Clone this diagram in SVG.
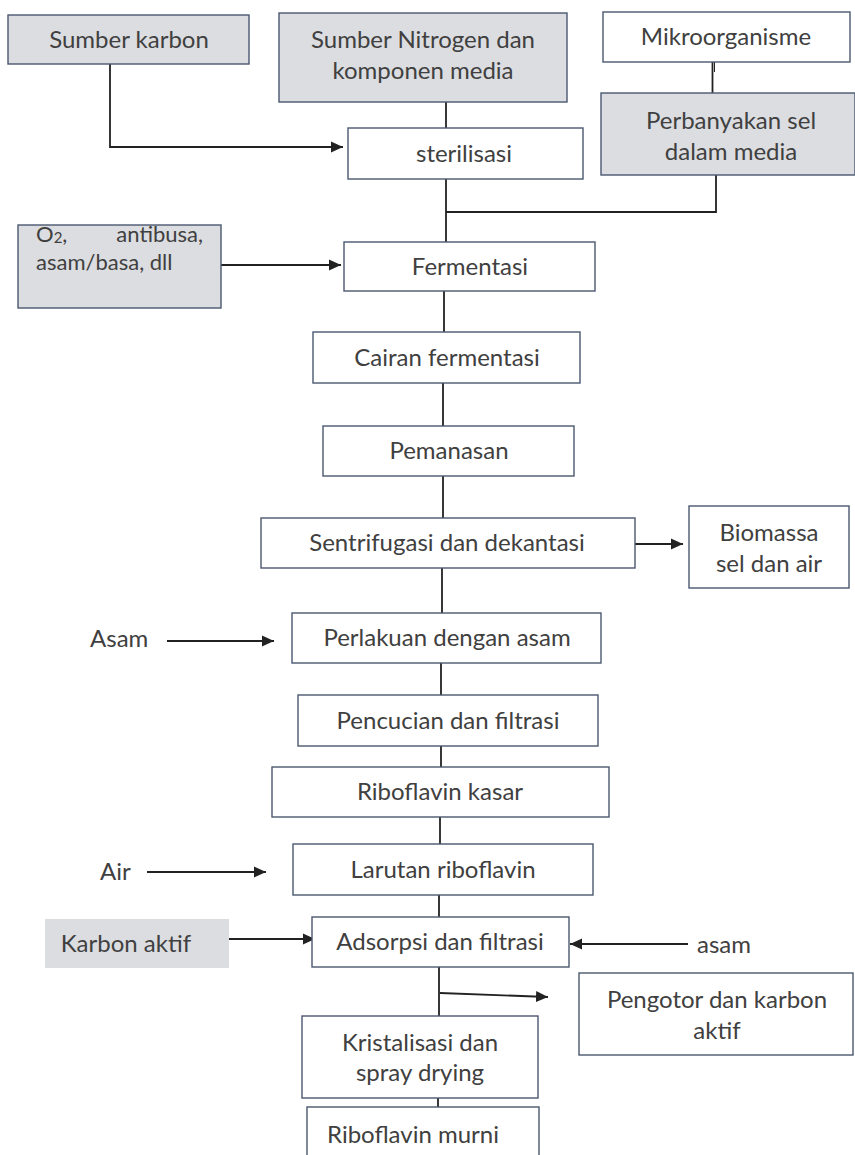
<svg xmlns="http://www.w3.org/2000/svg" width="855" height="1155" viewBox="0 0 855 1155">
<style>
.box{fill:#ffffff;stroke:#4a5870;stroke-width:1.4}
.gray{fill:#dcdde0;stroke:#4a5870;stroke-width:1.4}
.plain{fill:#dcdde0;stroke:none}
text{font-family:Lato,"Open Sans","Liberation Sans",sans-serif;font-size:24px;font-weight:400;fill:#404040}
.c{text-anchor:middle}
.sm{font-size:22px}
.ln{fill:none;stroke:#222222;stroke-width:1.8}
</style>
<defs>
<marker id="arr" markerUnits="userSpaceOnUse" markerWidth="14" markerHeight="12" refX="12" refY="6" orient="auto">
<path d="M0,0.5 L12,6 L0,11.5 Z" fill="#222222"/>
</marker>
</defs>
<rect width="855" height="1155" fill="#ffffff"/>
<g id="connectors">
<path class="ln" d="M110,64 V147 H343" marker-end="url(#arr)"/>
<path class="ln" d="M446,102 V128"/>
<path class="ln" d="M712.5,62 V93"/>
<path class="ln" d="M714.5,62 V72" style="stroke-width:1"/>
<path class="ln" d="M446,179 V242"/>
<path class="ln" d="M716,175 V212 H446"/>
<path class="ln" d="M221,265 H341" marker-end="url(#arr)"/>
<path class="ln" d="M444,291 V332"/>
<path class="ln" d="M443,383 V426"/>
<path class="ln" d="M443,476 V518"/>
<path class="ln" d="M635,544 H683" marker-end="url(#arr)"/>
<path class="ln" d="M442,568 V613"/>
<path class="ln" d="M167,641 H274" marker-end="url(#arr)"/>
<path class="ln" d="M441,663 V695"/>
<path class="ln" d="M441,746 V767"/>
<path class="ln" d="M440,817 V844"/>
<path class="ln" d="M147,872 H266" marker-end="url(#arr)"/>
<path class="ln" d="M439,895 V917"/>
<path class="ln" d="M221,939 H315" marker-end="url(#arr)"/>
<path class="ln" d="M688,944 H570" marker-end="url(#arr)"/>
<path class="ln" d="M439,967 V1016"/>
<path class="ln" d="M440,993 L548,997" marker-end="url(#arr)"/>
<path class="ln" d="M438,1098 V1107"/>
</g>
<g id="sumber-karbon"><rect class="gray" x="8" y="15" width="241" height="49"/><text class="c" x="129" y="48">Sumber karbon</text></g>
<g id="sumber-nitrogen"><rect class="gray" x="279" y="13" width="288" height="89"/><text class="c" x="423" y="48">Sumber Nitrogen dan</text><text class="c" x="423" y="79">komponen media</text></g>
<g id="mikroorganisme"><rect class="box" x="603" y="12" width="247" height="50"/><text class="c" x="726" y="45">Mikroorganisme</text></g>
<g id="perbanyakan"><rect class="gray" x="601" y="93" width="254" height="82"/><text class="c" x="731" y="129">Perbanyakan sel</text><text class="c" x="731" y="160">dalam media</text></g>
<g id="sterilisasi"><rect class="box" x="348" y="128" width="235" height="51"/><text class="c" x="464" y="162">sterilisasi</text></g>
<g id="o2"><rect class="gray" x="18" y="225" width="203" height="83"/><text class="sm" x="36" y="242">O<tspan font-size="15" dy="1">2</tspan><tspan dy="-1">,</tspan><tspan x="203" y="242" text-anchor="end">antibusa,</tspan><tspan x="36" y="270">asam/basa, dll</tspan></text></g>
<g id="fermentasi"><rect class="box" x="344" y="242" width="251" height="49"/><text class="c" x="470" y="275">Fermentasi</text></g>
<g id="cairan"><rect class="box" x="313" y="332" width="267" height="51"/><text class="c" x="447" y="366">Cairan fermentasi</text></g>
<g id="pemanasan"><rect class="box" x="323" y="426" width="251" height="50"/><text class="c" x="449" y="459">Pemanasan</text></g>
<g id="sentrifugasi"><rect class="box" x="261" y="518" width="374" height="50"/><text class="c" x="447" y="551">Sentrifugasi dan dekantasi</text></g>
<g id="biomassa"><rect class="box" x="689" y="506" width="160" height="82"/><text class="c" x="769" y="541">Biomassa</text><text class="c" x="769" y="572">sel dan air</text></g>
<g id="asam-label"><text x="90" y="647">Asam</text></g>
<g id="perlakuan"><rect class="box" x="292" y="613" width="309" height="50"/><text class="c" x="447" y="646">Perlakuan dengan asam</text></g>
<g id="pencucian"><rect class="box" x="298" y="695" width="300" height="51"/><text class="c" x="448" y="729">Pencucian dan filtrasi</text></g>
<g id="riboflavin-kasar"><rect class="box" x="272" y="767" width="337" height="50"/><text class="c" x="440" y="800">Riboflavin kasar</text></g>
<g id="air-label"><text x="100" y="880">Air</text></g>
<g id="larutan"><rect class="box" x="293" y="844" width="300" height="51"/><text class="c" x="443" y="878">Larutan riboflavin</text></g>
<g id="karbon-aktif"><rect class="plain" x="45" y="919" width="184" height="49"/><text class="c" x="126" y="952">Karbon aktif</text></g>
<g id="adsorpsi"><rect class="box" x="312" y="917" width="257" height="50"/><text class="c" x="440" y="950">Adsorpsi dan filtrasi</text></g>
<g id="asam2-label"><text x="697" y="953">asam</text></g>
<g id="pengotor"><rect class="box" x="579" y="973" width="274" height="82"/><text class="c" x="717" y="1008">Pengotor dan karbon</text><text class="c" x="717" y="1039">aktif</text></g>
<g id="kristalisasi"><rect class="box" x="302" y="1016" width="236" height="82"/><text class="c" x="420" y="1051">Kristalisasi dan</text><text class="c" x="420" y="1081">spray drying</text></g>
<g id="riboflavin-murni"><rect class="box" x="307" y="1107" width="232" height="60"/><text class="c" x="413" y="1143">Riboflavin murni</text></g>
</svg>
